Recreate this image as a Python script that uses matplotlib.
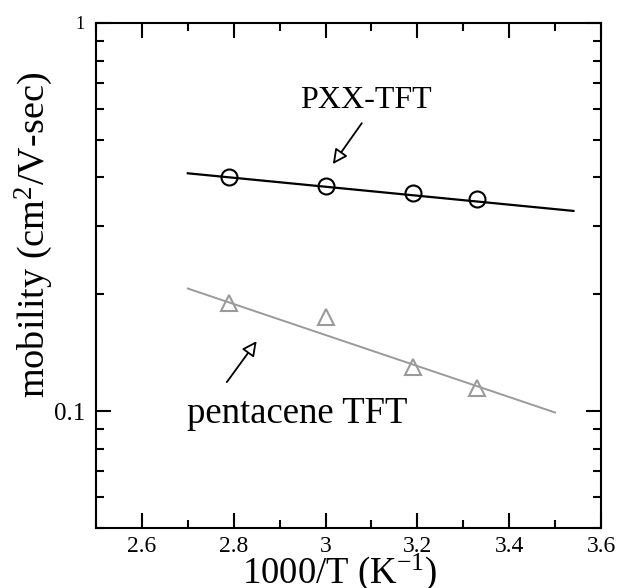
import numpy as np
import matplotlib
matplotlib.use("Agg")
import matplotlib.pyplot as plt
from matplotlib.ticker import FixedLocator, FuncFormatter

plt.rcParams["font.family"] = "Liberation Serif"
plt.rcParams["mathtext.fontset"] = "custom"
plt.rcParams["mathtext.rm"] = "Liberation Serif"
plt.rcParams["mathtext.default"] = "rm"

# measured points (1000/T, mobility)
pxx_x = [2.79, 3.00, 3.19, 3.33]
pxx_y = [0.400, 0.381, 0.364, 0.351]
pent_x = [2.79, 3.00, 3.19, 3.33]
pent_y = [0.190, 0.175, 0.130, 0.115]

# fitted lines (end points)
pxx_fit_x = [2.70, 3.54]
pxx_fit_y = [0.410, 0.328]
pent_fit_x = [2.70, 3.50]
pent_fit_y = [0.207, 0.0992]

x_major = [2.6, 2.8, 3.0, 3.2, 3.4, 3.6]
x_minor = [2.5, 2.7, 2.9, 3.1, 3.3, 3.5]
y_major = [0.1, 1]
y_minor = [0.05, 0.06, 0.07, 0.08, 0.09, 0.2, 0.3, 0.4, 0.5, 0.6, 0.7, 0.8, 0.9]

fig = plt.figure(figsize=(6.18, 5.88), dpi=100)
ax = fig.add_axes([0.1553, 0.102, 0.8172, 0.8589])

gray = "#9a9a9a"
ax.plot(pxx_fit_x, pxx_fit_y, color="black", lw=1.6)
ax.plot(pxx_x, pxx_y, "o", ms=11.5, mfc="none", mec="black", mew=1.5)
ax.plot(pent_fit_x, pent_fit_y, color=gray, lw=1.4)
ax.plot(pent_x, pent_y, "^", ms=11, mfc="none", mec=gray, mew=1.5)

ax.set_yscale("log")
ax.set_xlim(2.5, 3.6)
ax.set_ylim(0.05, 1)

ax.xaxis.set_major_locator(FixedLocator(x_major))
ax.xaxis.set_minor_locator(FixedLocator(x_minor))
ax.yaxis.set_major_locator(FixedLocator(y_major))
ax.yaxis.set_minor_locator(FixedLocator(y_minor))
fmt = FuncFormatter(lambda v, p: "%g" % v)
ax.xaxis.set_major_formatter(fmt)
ax.yaxis.set_major_formatter(fmt)
ax.yaxis.set_minor_formatter(FuncFormatter(lambda v, p: ""))

ax.tick_params(which="both", direction="in", top=True, right=True, width=1.5)
ax.tick_params(axis="x", labelsize=17)
ax.tick_params(axis="y", labelsize=18)
ax.tick_params(which="major", length=11)
ax.tick_params(axis="x", which="major", pad=6)
ax.tick_params(axis="y", which="major", pad=8)
ax.tick_params(which="minor", length=6)
for s in ax.spines.values():
    s.set_linewidth(1.5)

fig.canvas.draw()
for lab in ax.get_yticklabels():
    if lab.get_text() == "1":
        lab.set_fontsize(13)

ax.set_xlabel("1000/T (K$^{-1}$)", fontsize=26.5)
ax.xaxis.set_label_coords(0.483, -0.109)
ax.xaxis.label.set_va("baseline")
ax.set_ylabel("mobility (cm$^{2}$/V-sec)", fontsize=27.5)
ax.yaxis.set_label_coords(-0.081, 0.580)

ax.text(3.088, 0.633, "PXX-TFT", fontsize=23, ha="center", va="center")
ax.text(2.939, 0.0985, "pentacene TFT", fontsize=26.5, ha="center", va="center")

arrow = dict(arrowstyle="-|>", fc="white", ec="black", lw=1.3,
             mutation_scale=22, shrinkA=0, shrinkB=0)
ax.annotate("", xy=(3.016, 0.433), xytext=(3.079, 0.552), arrowprops=arrow)
ax.annotate("", xy=(2.850, 0.1515), xytext=(2.785, 0.1188), arrowprops=arrow)

fig.savefig("out.png", dpi=100)
